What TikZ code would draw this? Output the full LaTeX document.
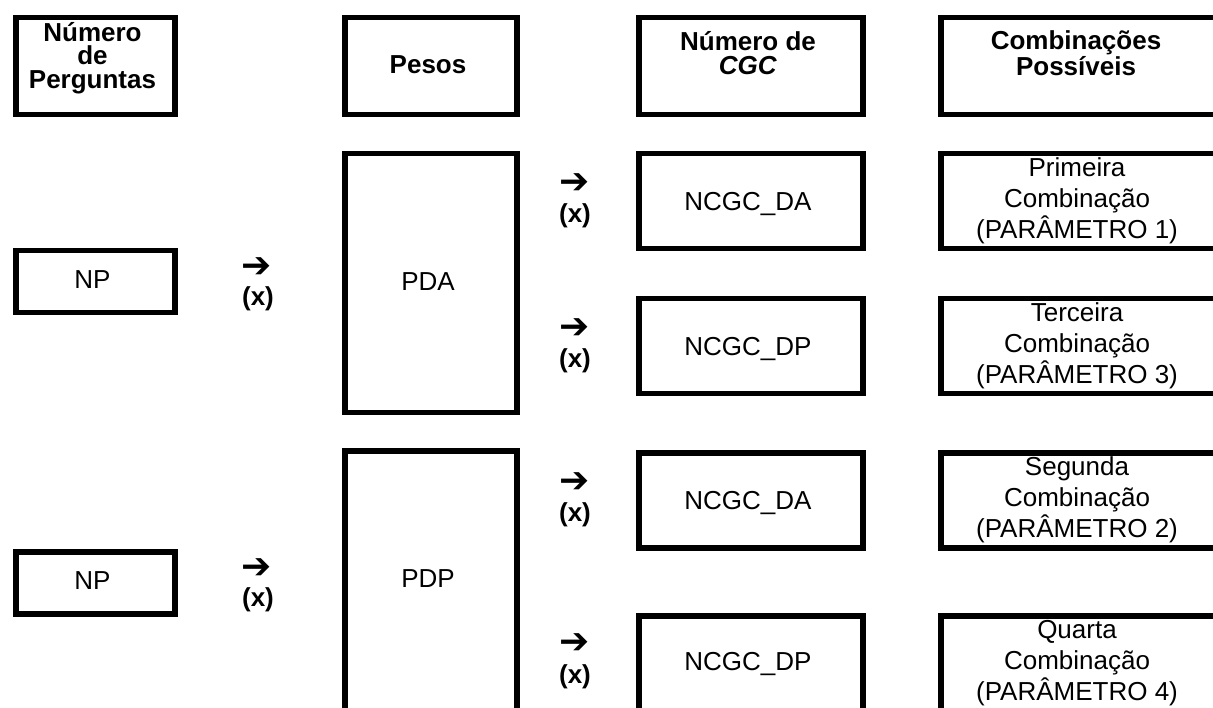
\documentclass[tikz,border=0pt]{standalone}
\usepackage{fontspec}
\setmainfont{Liberation Sans}
\newfontfamily\arrowfont{DejaVu Sans}
\usetikzlibrary{calc}
\tikzset{
  boxline/.style={draw=black, line width=5.5pt, rectangle, inner sep=0pt, anchor=north west},
  plain/.style={font=\fontsize{26}{31}\selectfont, align=center, inner sep=0pt},
  hdr/.style={font=\fontsize{26}{23.5}\selectfont\bfseries, align=center, inner sep=0pt},
  arr/.style={font=\fontsize{36}{36}\arrowfont\bfseries, inner sep=0pt},
  mult/.style={font=\fontsize{26}{26}\selectfont\bfseries, inner sep=0pt},
}
\begin{document}
\begin{tikzpicture}[x=1pt,y=-1pt]
\useasboundingbox (0,0) rectangle (1213,708);
\clip (0,0) rectangle (1213,708);
% header boxes
\node[boxline, minimum width=159pt, minimum height=97pt] (h1) at (13,15) {};
\node[boxline, minimum width=172pt, minimum height=97pt] (h2) at (342,15) {};
\node[boxline, minimum width=224pt, minimum height=97pt] (h3) at (636,15) {};
\node[boxline, minimum width=302pt, minimum height=97pt] (h4) at (938,15) {};
\node[hdr] (t1) at (92.5,58) {Número\\de\\Perguntas};
\node[hdr] (t2) at (428,65) {Pesos};
\node[hdr] (t3) at (748,53) {Número de\\\textit{CGC}};
\node[hdr] (t4) at (1076,53) {Combinações\\Possíveis};
% NP boxes
\node[boxline, minimum width=159pt, minimum height=62pt] (np1) at (13,248) {};
\node[plain] (np1t) at (92.5,280) {NP};
\node[boxline, minimum width=159pt, minimum height=62pt] (np2) at (13,549) {};
\node[plain] (np2t) at (92.5,581) {NP};
% left arrows
\node[arr] (a1) at (257,268) {➔};
\node[mult] (x1) at (258,299) {(x)};
\node[arr] (a2) at (257,569) {➔};
\node[mult] (x2) at (258,600) {(x)};
% weight boxes
\node[boxline, minimum width=172pt, minimum height=259pt] (pda) at (342,151) {};
\node[plain] (pdat) at (428,282) {PDA};
\node[boxline, minimum width=172pt, minimum height=290pt] (pdp) at (342,448) {};
\node[plain] (pdpt) at (428,579) {PDP};
% NCGC boxes
\node[boxline, minimum width=224pt, minimum height=95pt] (n1) at (636,151) {};
\node[plain] (n1t) at (748,204) {NCGC\_DA};
\node[boxline, minimum width=224pt, minimum height=95pt] (n2) at (636,296) {};
\node[plain] (n2t) at (748,349) {NCGC\_DP};
\node[boxline, minimum width=224pt, minimum height=95pt] (n3) at (636,450) {};
\node[plain] (n3t) at (748,503) {NCGC\_DA};
\node[boxline, minimum width=224pt, minimum height=120pt] (n4) at (636,613) {};
\node[plain] (n4t) at (748,664) {NCGC\_DP};
% right arrows
\node[arr] (b1) at (575,184) {➔};
\node[mult] (y1) at (575,216) {(x)};
\node[arr] (b2) at (575,329) {➔};
\node[mult] (y2) at (575,361) {(x)};
\node[arr] (b3) at (575,483) {➔};
\node[mult] (y3) at (575,515) {(x)};
\node[arr] (b4) at (575,644) {➔};
\node[mult] (y4) at (575,677) {(x)};
% combination boxes
\node[boxline, minimum width=302pt, minimum height=95pt] (c1) at (938,151) {};
\node[plain] (c1t) at (1077,201) {Primeira\\Combinação\\(PARÂMETRO 1)};
\node[boxline, minimum width=302pt, minimum height=95pt] (c2) at (938,296) {};
\node[plain] (c2t) at (1077,346) {Terceira\\Combinação\\(PARÂMETRO 3)};
\node[boxline, minimum width=302pt, minimum height=95pt] (c3) at (938,450) {};
\node[plain] (c3t) at (1077,500) {Segunda\\Combinação\\(PARÂMETRO 2)};
\node[boxline, minimum width=302pt, minimum height=120pt] (c4) at (938,613) {};
\node[plain] (c4t) at (1077,663) {Quarta\\Combinação\\(PARÂMETRO 4)};
\end{tikzpicture}
\end{document}
